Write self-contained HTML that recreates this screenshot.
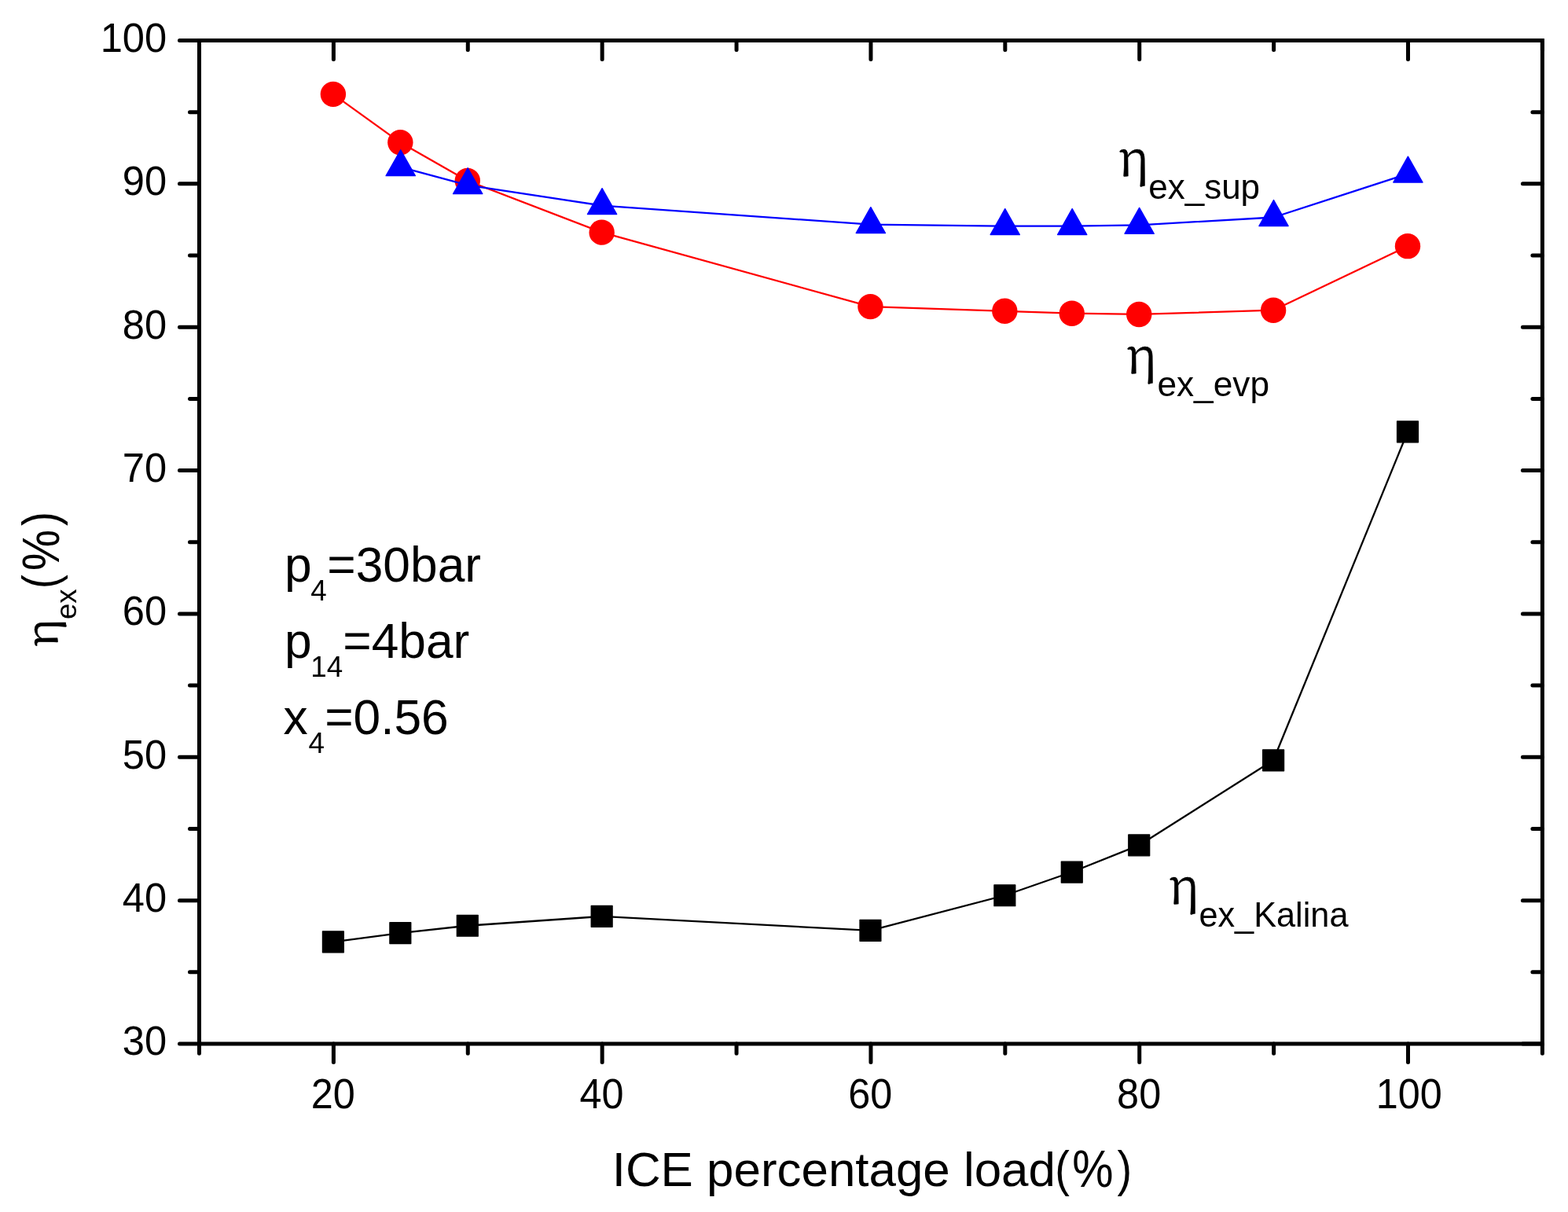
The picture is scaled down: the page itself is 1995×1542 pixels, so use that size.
<!DOCTYPE html><html><head><meta charset="utf-8"><title>chart</title>
<style>html,body{margin:0;padding:0;background:#fff;width:1995px;height:1542px;overflow:hidden}svg{display:block}</style></head><body>
<svg width="1995" height="1542" viewBox="0 0 1995 1542">
<rect width="1995" height="1542" fill="#fff"/>
<polyline points="423.89,1198.34 509.33,1187.04 594.78,1177.74 765.67,1165.88 1107.45,1183.94 1278.34,1139.26 1363.78,1109.53 1449.23,1075.43 1620.12,967.29 1791.01,549.32" fill="none" stroke="#000" stroke-width="2.3" stroke-linejoin="round"/>
<rect x="410.49" y="1184.94" width="26.8" height="26.8" fill="#000" stroke="#000" stroke-width="1.4" stroke-linejoin="round"/>
<rect x="495.94" y="1173.64" width="26.8" height="26.8" fill="#000" stroke="#000" stroke-width="1.4" stroke-linejoin="round"/>
<rect x="581.38" y="1164.34" width="26.8" height="26.8" fill="#000" stroke="#000" stroke-width="1.4" stroke-linejoin="round"/>
<rect x="752.27" y="1152.48" width="26.8" height="26.8" fill="#000" stroke="#000" stroke-width="1.4" stroke-linejoin="round"/>
<rect x="1094.05" y="1170.54" width="26.8" height="26.8" fill="#000" stroke="#000" stroke-width="1.4" stroke-linejoin="round"/>
<rect x="1264.94" y="1125.86" width="26.8" height="26.8" fill="#000" stroke="#000" stroke-width="1.4" stroke-linejoin="round"/>
<rect x="1350.38" y="1096.13" width="26.8" height="26.8" fill="#000" stroke="#000" stroke-width="1.4" stroke-linejoin="round"/>
<rect x="1435.83" y="1062.03" width="26.8" height="26.8" fill="#000" stroke="#000" stroke-width="1.4" stroke-linejoin="round"/>
<rect x="1606.72" y="953.89" width="26.8" height="26.8" fill="#000" stroke="#000" stroke-width="1.4" stroke-linejoin="round"/>
<rect x="1777.61" y="535.92" width="26.8" height="26.8" fill="#000" stroke="#000" stroke-width="1.4" stroke-linejoin="round"/>
<polyline points="423.89,119.87 509.33,181.32 594.78,230.01 765.67,295.66 1107.45,390.12 1278.34,395.78 1363.78,398.69 1449.23,399.97 1620.12,394.68 1791.01,313.17" fill="none" stroke="#f00" stroke-width="2.3" stroke-linejoin="round"/>
<circle cx="423.89" cy="119.87" r="16.2" fill="#f00"/>
<circle cx="509.33" cy="181.32" r="16.2" fill="#f00"/>
<circle cx="594.78" cy="230.01" r="16.2" fill="#f00"/>
<circle cx="765.67" cy="295.66" r="16.2" fill="#f00"/>
<circle cx="1107.45" cy="390.12" r="16.2" fill="#f00"/>
<circle cx="1278.34" cy="395.78" r="16.2" fill="#f00"/>
<circle cx="1363.78" cy="398.69" r="16.2" fill="#f00"/>
<circle cx="1449.23" cy="399.97" r="16.2" fill="#f00"/>
<circle cx="1620.12" cy="394.68" r="16.2" fill="#f00"/>
<circle cx="1791.01" cy="313.17" r="16.2" fill="#f00"/>
<polyline points="509.73,212.69 595.18,235.66 766.07,261.56 1107.85,285.63 1278.74,287.64 1364.18,287.64 1449.63,286.36 1620.52,276.51 1791.41,221.07" fill="none" stroke="#00f" stroke-width="2.3" stroke-linejoin="round"/>
<path d="M509.73,190.75 L528.33,223.65 L491.13,223.65 Z" fill="#00f" stroke="#00f" stroke-width="1.4" stroke-linejoin="round"/>
<path d="M595.18,213.73 L613.78,246.63 L576.58,246.63 Z" fill="#00f" stroke="#00f" stroke-width="1.4" stroke-linejoin="round"/>
<path d="M766.07,239.63 L784.67,272.53 L747.47,272.53 Z" fill="#00f" stroke="#00f" stroke-width="1.4" stroke-linejoin="round"/>
<path d="M1107.85,263.70 L1126.45,296.60 L1089.25,296.60 Z" fill="#00f" stroke="#00f" stroke-width="1.4" stroke-linejoin="round"/>
<path d="M1278.74,265.70 L1297.34,298.60 L1260.14,298.60 Z" fill="#00f" stroke="#00f" stroke-width="1.4" stroke-linejoin="round"/>
<path d="M1364.18,265.70 L1382.78,298.60 L1345.59,298.60 Z" fill="#00f" stroke="#00f" stroke-width="1.4" stroke-linejoin="round"/>
<path d="M1449.63,264.43 L1468.23,297.33 L1431.03,297.33 Z" fill="#00f" stroke="#00f" stroke-width="1.4" stroke-linejoin="round"/>
<path d="M1620.52,254.58 L1639.12,287.48 L1601.92,287.48 Z" fill="#00f" stroke="#00f" stroke-width="1.4" stroke-linejoin="round"/>
<path d="M1791.41,199.14 L1810.01,232.04 L1772.81,232.04 Z" fill="#00f" stroke="#00f" stroke-width="1.4" stroke-linejoin="round"/>
<g stroke="#000" stroke-width="5" fill="none">
<rect x="253.5" y="51.48000000000002" width="1708.90" height="1276.52" stroke-linejoin="miter"/>
<path d="M228.50,1328.00H253.5M241.50,1236.82H253.5M228.50,1145.64H253.5M241.50,1054.46H253.5M228.50,963.28H253.5M241.50,872.10H253.5M228.50,780.92H253.5M241.50,689.74H253.5M228.50,598.56H253.5M241.50,507.38H253.5M228.50,416.20H253.5M241.50,325.02H253.5M228.50,233.84H253.5M241.50,142.66H253.5M228.50,51.48H253.5M1937.40,1328.00H1962.40M1949.90,1236.82H1962.40M1937.40,1145.64H1962.40M1949.90,1054.46H1962.40M1937.40,963.28H1962.40M1949.90,872.10H1962.40M1937.40,780.92H1962.40M1949.90,689.74H1962.40M1937.40,598.56H1962.40M1949.90,507.38H1962.40M1937.40,416.20H1962.40M1949.90,325.02H1962.40M1937.40,233.84H1962.40M1949.90,142.66H1962.40M1937.40,51.48H1962.40M253.50,1328.0V1340.30M253.50,51.48000000000002V63.48M424.39,1328.0V1351.50M424.39,51.48000000000002V75.48M595.28,1328.0V1340.30M595.28,51.48000000000002V63.48M766.17,1328.0V1351.50M766.17,51.48000000000002V75.48M937.06,1328.0V1340.30M937.06,51.48000000000002V63.48M1107.95,1328.0V1351.50M1107.95,51.48000000000002V75.48M1278.84,1328.0V1340.30M1278.84,51.48000000000002V63.48M1449.73,1328.0V1351.50M1449.73,51.48000000000002V75.48M1620.62,1328.0V1340.30M1620.62,51.48000000000002V63.48M1791.51,1328.0V1351.50M1791.51,51.48000000000002V75.48M1962.40,1328.0V1340.30M1962.40,51.48000000000002V63.48" stroke-linecap="round"/>
</g>
<g font-family="'Liberation Sans', Arial, sans-serif" font-size="51.7" fill="#000">
<text transform="translate(212.2,1342.40) scale(0.98,1.015)" text-anchor="end">30</text>
<text transform="translate(212.2,1160.04) scale(0.98,1.015)" text-anchor="end">40</text>
<text transform="translate(212.2,977.68) scale(0.98,1.015)" text-anchor="end">50</text>
<text transform="translate(212.2,795.32) scale(0.98,1.015)" text-anchor="end">60</text>
<text transform="translate(212.2,612.96) scale(0.98,1.015)" text-anchor="end">70</text>
<text transform="translate(212.2,430.60) scale(0.98,1.015)" text-anchor="end">80</text>
<text transform="translate(212.2,248.24) scale(0.98,1.015)" text-anchor="end">90</text>
<text transform="translate(212.2,65.88) scale(0.98,1.015)" text-anchor="end">100</text>
<text transform="translate(423.79,1410.0) scale(0.975,1.025)" text-anchor="middle">20</text>
<text transform="translate(765.57,1410.0) scale(0.975,1.025)" text-anchor="middle">40</text>
<text transform="translate(1107.35,1410.0) scale(0.975,1.025)" text-anchor="middle">60</text>
<text transform="translate(1449.13,1410.0) scale(0.975,1.025)" text-anchor="middle">80</text>
<text transform="translate(1792.71,1410.0) scale(0.975,1.025)" text-anchor="middle">100</text>
</g>
<text transform="translate(778.7,1509) scale(1,0.995)" font-family="'Liberation Sans', Arial, sans-serif" font-size="61.9">ICE percentage load</text>
<text transform="translate(1342.2,1509) scale(0.9,1)" font-family="'Liberation Sans', Arial, sans-serif" font-size="62.1">(</text>
<text transform="translate(1364.2,1510) scale(0.947,1.075)" font-family="'Liberation Sans', Arial, sans-serif" font-size="62.1">%</text>
<text transform="translate(1421.5,1509) scale(0.9,1)" font-family="'Liberation Sans', Arial, sans-serif" font-size="62.1">)</text>
<g transform="translate(73,822) rotate(-90)"><text transform="translate(-1.5,0) scale(1.1,1)" font-family="'Noto Serif CJK SC', 'Liberation Serif', serif" font-size="54.8" stroke="#000" stroke-width="0.6">η</text><text x="34" y="23.6" font-family="'Liberation Sans', Arial, sans-serif" font-size="36.6">ex</text><text transform="translate(73.1,0) scale(0.85,1)" font-family="'Liberation Sans', Arial, sans-serif" font-size="63.3">(</text><text transform="translate(95.9,1.5) scale(0.927,1.06)" font-family="'Liberation Sans', Arial, sans-serif" font-size="63.3">%</text><text transform="translate(152.9,0) scale(0.85,1)" font-family="'Liberation Sans', Arial, sans-serif" font-size="63.3">)</text></g>
<text transform="translate(1442.10,223.9) scale(1.0,1)" font-family="'Noto Serif CJK SC', 'Liberation Serif', serif" font-size="64.7" text-anchor="middle" stroke="#000" stroke-width="0.6">η</text>
<text transform="translate(1461.2,253.30) scale(1.0,1)" font-family="'Liberation Sans', Arial, sans-serif" font-size="44">ex_sup</text>
<text transform="translate(1452.10,474.7) scale(1.0,1)" font-family="'Noto Serif CJK SC', 'Liberation Serif', serif" font-size="64.7" text-anchor="middle" stroke="#000" stroke-width="0.6">η</text>
<text transform="translate(1472.4,504.10) scale(1.005,1)" font-family="'Liberation Sans', Arial, sans-serif" font-size="44">ex_evp</text>
<text transform="translate(1506.20,1149.8) scale(1.0,1)" font-family="'Noto Serif CJK SC', 'Liberation Serif', serif" font-size="64.7" text-anchor="middle" stroke="#000" stroke-width="0.6">η</text>
<text transform="translate(1525.4,1179.20) scale(0.984,1)" font-family="'Liberation Sans', Arial, sans-serif" font-size="44">ex_Kalina</text>
<text font-family="'Liberation Sans', Arial, sans-serif" font-size="62.3" x="362" y="739.9">p<tspan font-size="36.8" dx="-1.3" dy="23.8">4</tspan><tspan dx="0.5" dy="-23.8">=30bar</tspan></text>
<text font-family="'Liberation Sans', Arial, sans-serif" font-size="62.3" x="362" y="837.1">p<tspan font-size="36.8" dx="-1.3" dy="23.8">14</tspan><tspan dy="-23.8">=4bar</tspan></text>
<text font-family="'Liberation Sans', Arial, sans-serif" font-size="62.3" x="360.5" y="934.2">x<tspan font-size="36.8" dx="0.8" dy="23.8">4</tspan><tspan dx="0.2" dy="-23.8">=0.56</tspan></text>
</svg></body></html>
